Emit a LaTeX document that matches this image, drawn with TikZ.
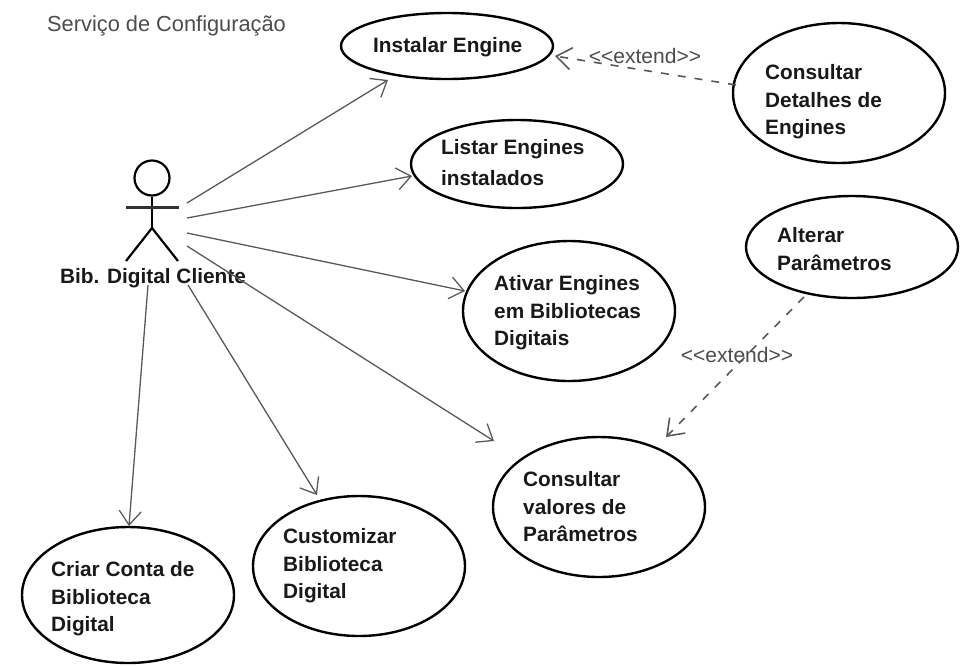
\documentclass[tikz,border=0pt]{standalone}
\usepackage{fontspec}
\setmainfont{Liberation Sans}
\usetikzlibrary{shapes.geometric,arrows.meta}
\tikzset{
 uc/.style={draw=black,line width=2.4pt,ellipse,minimum width=#1,inner sep=0pt},
 uclabel/.style={font=\fontsize{20.8}{27.5}\selectfont\bfseries,align=left,anchor=west,text=black!90,inner sep=0pt},
 assoc/.style={draw=black!65,line width=1.3pt,-{Straight Barb[length=14pt,width=22pt,line width=1.3pt]}},
 ext/.style={draw=black!65,line width=1.6pt,dash pattern=on 8pt off 9pt,-{Straight Barb[length=15pt,width=22pt,line width=1.6pt,sep=0pt]}},
 extlabel/.style={font=\fontsize{21}{24}\selectfont,text=black!70,inner sep=0pt},
}
\begin{document}
\begin{tikzpicture}[x=1pt,y=-1pt]
\useasboundingbox (0,0) rectangle (968,665);
\node[extlabel,anchor=west,font=\fontsize{21.8}{24}\selectfont] (title) at (47,26) {Serviço de Configuração};
% use cases
\node[uc=212pt,minimum height=66pt] (a) at (447,46) {};
\node[uclabel] (la) at (373,47) {Instalar Engine};
\node[uc=212pt,minimum height=88pt] (b) at (517,164) {};
\node[uclabel,font=\fontsize{20.8}{31}\selectfont\bfseries] (lb) at (441,163) {Listar Engines\\instalados};
\node[uc=212pt,minimum height=140pt] (c) at (569,311) {};
\node[uclabel] (lc) at (494,313) {Ativar Engines\\em Bibliotecas\\Digitais};
\node[uc=212pt,minimum height=140pt] (d) at (599,507) {};
\node[uclabel] (ld) at (523,507) {Consultar\\valores de\\Parâmetros};
\node[uc=212pt,minimum height=140pt] (e) at (359,566) {};
\node[uclabel] (le) at (283,566) {Customizar\\Biblioteca\\Digital};
\node[uc=212pt,minimum height=136pt] (f) at (128,595) {};
\node[uclabel] (lf) at (51,599) {Criar Conta de\\Biblioteca\\Digital};
\node[uc=212pt,minimum height=140pt] (g) at (839,93) {};
\node[uclabel] (lg) at (765,102) {Consultar\\Detalhes de\\Engines};
\node[uc=212pt,minimum height=102pt] (h) at (852,247) {};
\node[uclabel] (lh) at (777,249) {Alterar\\Parâmetros};
% actor
\node[draw=black,line width=2.2pt,circle,minimum size=35pt,inner sep=0pt] (head) at (152,178) {};
\coordinate (hip) at (152,228);
\coordinate (armL) at (126,207);
\coordinate (armR) at (179,207);
\coordinate (legL) at (126,261);
\coordinate (legR) at (178,261);
\draw[line width=2.2pt] (head.south) -- (hip);
\draw[line width=3pt,black!80] (armL) -- (armR);
\draw[line width=2.2pt] (legL) -- (hip) -- (legR);
\node[uclabel,anchor=center] (actor) at (153,278) {Bib. Digital Cliente};
% associations
\coordinate (s1) at (187,203);
\coordinate (s2) at (187,218);
\coordinate (s3) at (187,233);
\coordinate (s4) at (187,246);
\coordinate (s5) at (188,285);
\coordinate (s6) at (148,285);
\coordinate (t1) at (388,80);
\coordinate (t2) at (412,176);
\coordinate (t3) at (465,291);
\coordinate (t4) at (494,441);
\coordinate (t5) at (317,495);
\coordinate (t6) at (129,526);
\draw[assoc] (s1) -- (t1);
\draw[assoc] (s2) -- (t2);
\draw[assoc] (s3) -- (t3);
\draw[assoc] (s4) -- (t4);
\draw[assoc] (s5) -- (t5);
\draw[assoc] (s6) -- (t6);
% extends: dashed shaft, solid head
\coordinate (x1) at (736,85);
\coordinate (x2) at (555,56);
\coordinate (x3) at (804,297);
\coordinate (x4) at (666,437);
\draw[ext] (x1) -- (x2);
\draw[ext] (x3) -- (x4);
\node[extlabel] (l1) at (645,56) {<{}<extend>{}>};
\node[extlabel] (l2) at (737,355) {<{}<extend>{}>};
\end{tikzpicture}
\end{document}
